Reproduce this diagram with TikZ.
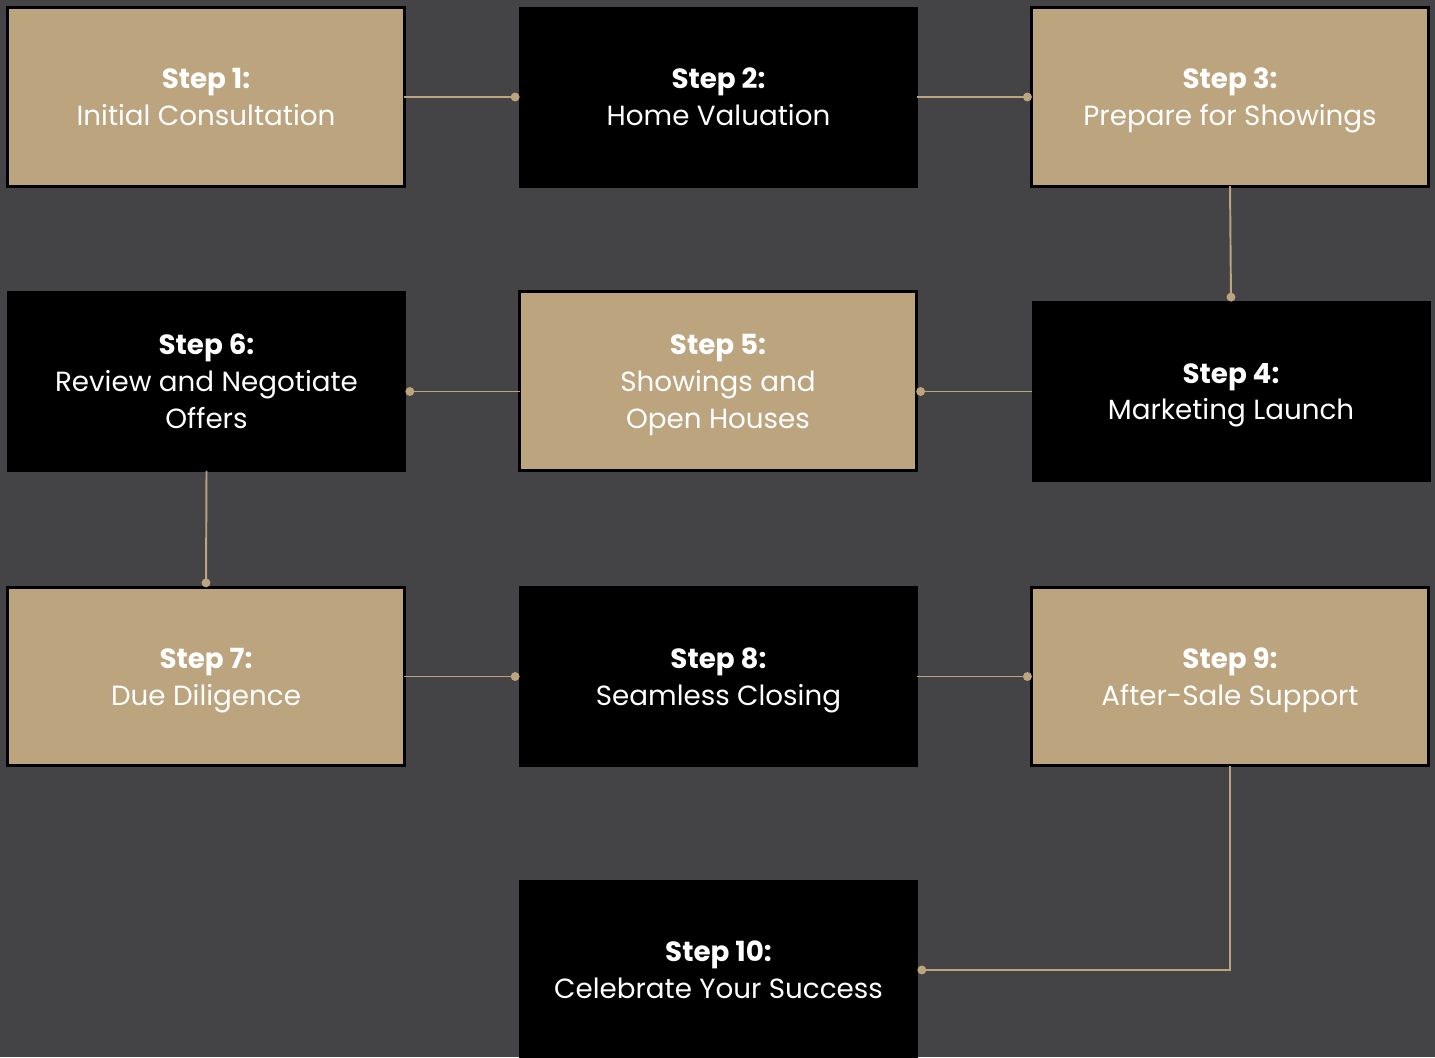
\documentclass[tikz,border=0pt]{standalone}
\usepackage{fontspec}
\setmainfont{Poppins}
\usetikzlibrary{arrows.meta,calc}
\definecolor{bgray}{RGB}{68,68,70}
\definecolor{sand}{RGB}{188,164,127}
\begin{document}
\begin{tikzpicture}[x=0.02cm,y=-0.02cm,inner sep=0pt,outer sep=0pt,
tanbox/.style={draw=black,line width=1.5pt,fill=sand,rectangle,minimum width=7.93cm,minimum height=3.57cm,text=white,align=center,text depth=0pt,font=\fontsize{15.8}{21}\selectfont},
blackbox/.style={draw=black,fill=black,rectangle,minimum width=7.96cm,minimum height=3.6cm,text=white,align=center,text depth=0pt,font=\fontsize{15.8}{21}\selectfont},
link/.style={draw=sand,line width=1.1pt,-{Circle[length=5pt]}}]
\fill[bgray] (0,0) rectangle (1435,1057);
\useasboundingbox (0,0) rectangle (1435,1057);
\draw (206,97) node[tanbox] (s1) {\textbf{Step 1:}\\Initial Consultation};
\draw (718.5,97) node[blackbox] (s2) {\textbf{Step 2:}\\Home Valuation};
\draw (1230,97) node[tanbox] (s3) {\textbf{Step 3:}\\Prepare for Showings};
\draw (1231,391.5) node[blackbox] (s4) {\textbf{Step 4:}\\Marketing Launch};
\draw (718,381) node[tanbox] (s5) {\textbf{Step 5:}\\Showings and\\Open Houses};
\draw (206.5,381) node[blackbox] (s6) {\textbf{Step 6:}\\Review and Negotiate\\Offers};
\draw (206,676.5) node[tanbox] (s7) {\textbf{Step 7:}\\Due Diligence};
\draw (718.5,676.5) node[blackbox] (s8) {\textbf{Step 8:}\\Seamless Closing};
\draw (1230,676.5) node[tanbox] (s9) {\textbf{Step 9:}\\After-Sale Support};
\draw (718.5,970) node[blackbox] (s10) {\textbf{Step 10:}\\Celebrate Your Success};
% links between the steps
\draw[link] (s1.east) -- (s2.west);
\draw[link] (s2.east) -- (s3.west);
\draw[link] (s3.south) -- (s4.north);
\draw[link] (s4.west) -- (s4.west -| s5.east);
\draw[link] (s5.west |- s4.west) -- (s6.east |- s4.west);
\draw[link] (s6.south) -- (s7.north);
\draw[link] (s7.east) -- (s8.west);
\draw[link] (s8.east) -- (s9.west);
\draw[link] (s9.south) |- (s10.east);
\end{tikzpicture}
\end{document}
